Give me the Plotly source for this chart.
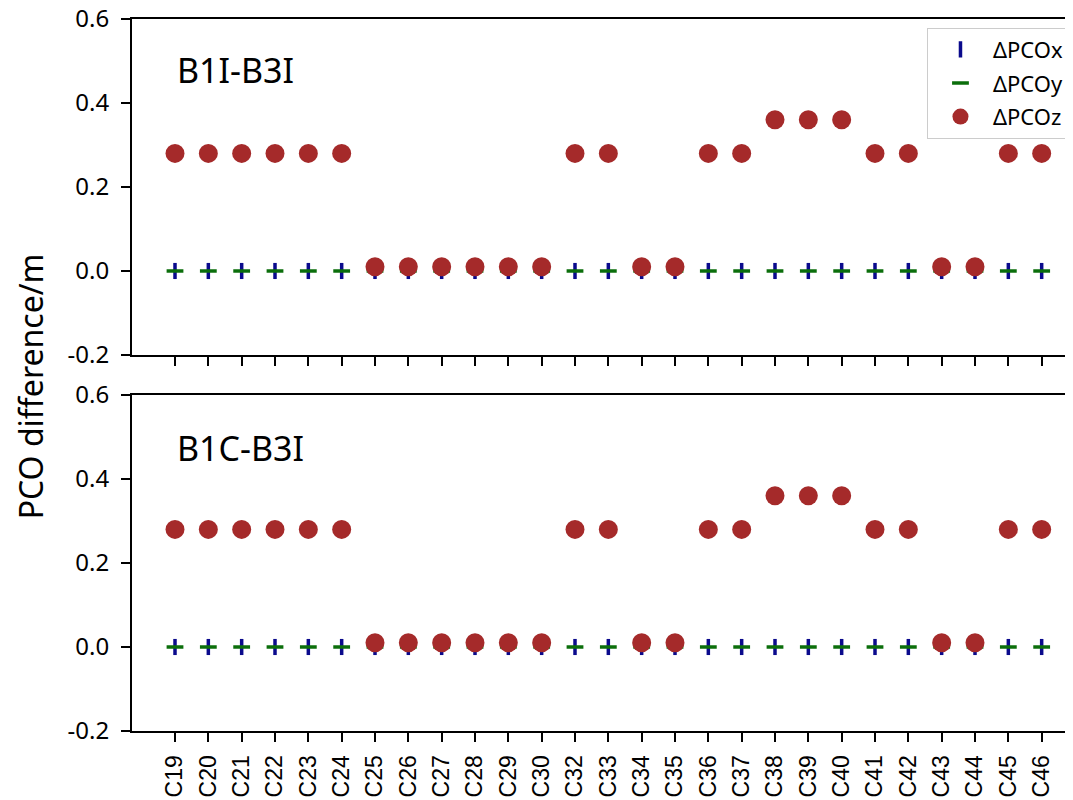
import plotly.graph_objects as go
from plotly.subplots import make_subplots

categories = ["C19", "C20", "C21", "C22", "C23", "C24", "C25", "C26", "C27", "C28",
              "C29", "C30", "C32", "C33", "C34", "C35", "C36", "C37", "C38", "C39",
              "C40", "C41", "C42", "C43", "C44", "C45", "C46"]

b1i_b3i_x = [0.0] * 27
b1i_b3i_y = [0.0] * 27
b1i_b3i_z = [0.28, 0.28, 0.28, 0.28, 0.28, 0.28, 0.01, 0.01, 0.01, 0.01,
             0.01, 0.01, 0.28, 0.28, 0.01, 0.01, 0.28, 0.28, 0.36, 0.36,
             0.36, 0.28, 0.28, 0.01, 0.01, 0.28, 0.28]

b1c_b3i_x = [0.0] * 27
b1c_b3i_y = [0.0] * 27
b1c_b3i_z = [0.28, 0.28, 0.28, 0.28, 0.28, 0.28, 0.01, 0.01, 0.01, 0.01,
             0.01, 0.01, 0.28, 0.28, 0.01, 0.01, 0.28, 0.28, 0.36, 0.36,
             0.36, 0.28, 0.28, 0.01, 0.01, 0.28, 0.28]

panel_labels = ["B1I-B3I", "B1C-B3I"]
series_names = ["ΔPCOx", "ΔPCOy", "ΔPCOz"]
y_ticks = [-0.2, 0.0, 0.2, 0.4, 0.6]
y_ticklabels = ["-0.2", "0.0", "0.2", "0.4", "0.6"]

blue = "#0a0a8c"
green = "#0b6e0b"
red = "#a52a2a"

fig = make_subplots(rows=2, cols=1, shared_xaxes=False, vertical_spacing=0.0562)

panels = [(b1i_b3i_x, b1i_b3i_y, b1i_b3i_z), (b1c_b3i_x, b1c_b3i_y, b1c_b3i_z)]
for i, (xs, ys, zs) in enumerate(panels):
    row = i + 1
    show = (i == 0)
    fig.add_trace(go.Scatter(
        x=categories, y=xs, mode="markers", name=series_names[0], legendgroup="a",
        showlegend=show,
        marker=dict(symbol="line-ns", size=11.5, line=dict(color=blue, width=3.5), color=blue)),
        row=row, col=1)
    fig.add_trace(go.Scatter(
        x=categories, y=ys, mode="markers", name=series_names[1], legendgroup="b",
        showlegend=show,
        marker=dict(symbol="line-ew", size=12, line=dict(color=green, width=3.5), color=green)),
        row=row, col=1)
    fig.add_trace(go.Scatter(
        x=categories, y=zs, mode="markers", name=series_names[2], legendgroup="c",
        showlegend=show,
        marker=dict(symbol="circle", size=19, color=red, line=dict(width=0))),
        row=row, col=1)

axis_common = dict(showline=True, linecolor="black", linewidth=2, ticks="outside",
                   tickcolor="black", tickwidth=2, showgrid=False, zeroline=False,
                   automargin=False, ticklabeloverflow="allow")

fig.update_xaxes(**axis_common, mirror=True, ticklen=9, type="category",
                 categoryorder="array", categoryarray=categories,
                 tickmode="array", tickvals=categories, ticktext=categories,
                 range=[-1.29, 27.18], tickangle=-90, ticklabelstandoff=4,
                 tickfont=dict(family="Liberation Sans", size=23, color="black"))
fig.update_xaxes(showticklabels=False, row=1, col=1)
fig.update_yaxes(**axis_common, mirror=False, ticklen=9, range=[-0.2, 0.6],
                 tickvals=y_ticks, ticktext=y_ticklabels, ticklabelstandoff=7,
                 tickfont=dict(family="Noto Sans", size=24, color="black"))

fig.update_layout(
    yaxis=dict(domain=[0.5281, 1.0]),
    yaxis2=dict(domain=[0.0, 0.4719]),
)

for i, lab in enumerate(panel_labels):
    xr = "x domain" if i == 0 else "x2 domain"
    yr = "y domain" if i == 0 else "y2 domain"
    fig.add_annotation(text=lab, xref=xr, yref=yr, x=0.045, y=0.848 if i == 0 else 0.842,
                       xanchor="left", yanchor="middle", showarrow=False,
                       font=dict(family="Noto Sans", size=34, color="black"))

fig.add_annotation(text="PCO difference/m", xref="paper", yref="paper",
                   x=-0.106, y=0.4846, textangle=-90, showarrow=False,
                   xanchor="center", yanchor="middle",
                   font=dict(family="Noto Sans", size=32, color="black"))

fig.update_layout(
    width=1073, height=800,
    margin=dict(l=124, r=0, t=11, b=77),
    plot_bgcolor="white", paper_bgcolor="white",
    showlegend=True,
    legend=dict(x=0.8377, y=0.988, xanchor="left", yanchor="top",
                bgcolor="white", bordercolor="#cccccc", borderwidth=1,
                font=dict(family="Noto Sans", size=22, color="black"),
                tracegroupgap=2, itemsizing="trace", itemwidth=55),
)

fig.write_html("out.html")
